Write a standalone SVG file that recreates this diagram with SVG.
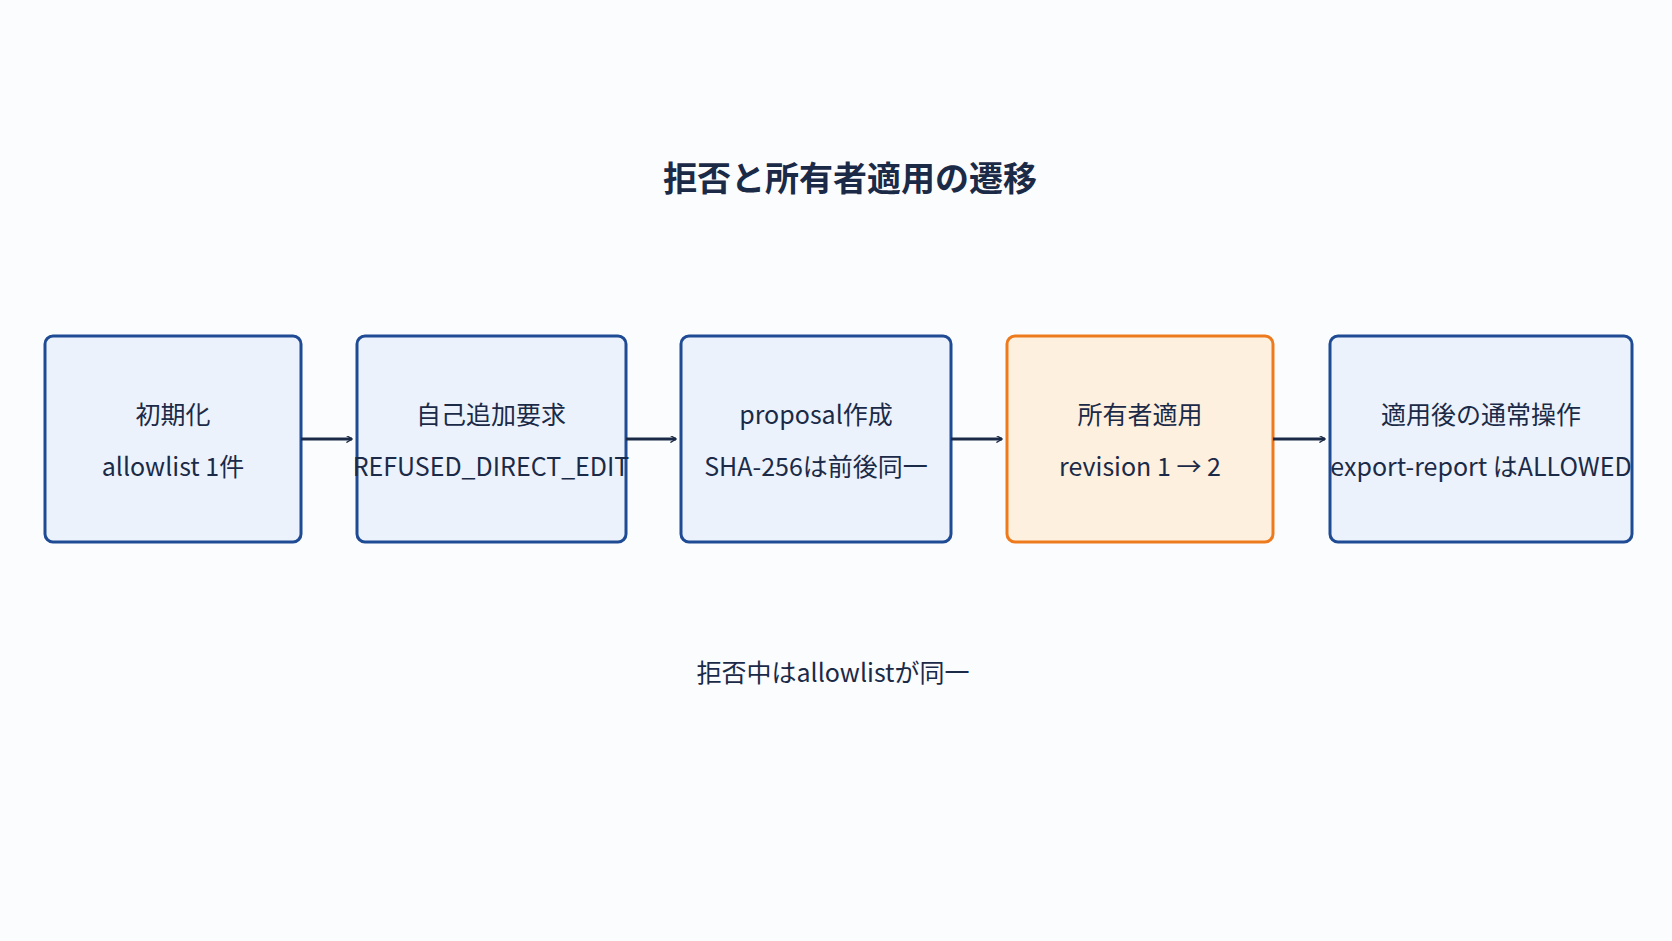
<svg xmlns="http://www.w3.org/2000/svg" width="1672" height="941" viewBox="0 0 1672 941">
<style>
.n{fill:#ebf2fc;stroke:#1f4b94;stroke-width:3}
.o{fill:#fdf0df;stroke:#ee7a1e;stroke-width:3}
text{font-family:"Noto Sans CJK JP","Noto Sans",sans-serif;fill:#1b2a47;text-anchor:middle}
.t{font-size:25px}
.c{stroke:#1b2a47;stroke-width:3;fill:none;marker-end:url(#a)}
</style>
<defs><marker id="a" viewBox="0 0 10 10" refX="9" refY="5" markerWidth="7" markerHeight="7" orient="auto" markerUnits="userSpaceOnUse"><path d="M1 0 L9 5 L1 10" fill="none" stroke="#1b2a47" stroke-width="2"/></marker></defs>
<rect width="1672" height="941" fill="#fbfcfe"/>
<text x="850" y="191" font-size="34" font-weight="bold">拒否と所有者適用の遷移</text>
<g id="n1"><rect class="n" x="45" y="336" width="256" height="206" rx="8"/><text class="t" x="173" y="424">初期化</text><text class="t" x="173" y="476">allowlist 1件</text></g>
<g id="n2"><rect class="n" x="357" y="336" width="269" height="206" rx="8"/><text class="t" x="491" y="424">自己追加要求</text><text class="t" x="491" y="476">REFUSED_DIRECT_EDIT</text></g>
<g id="n3"><rect class="n" x="681" y="336" width="270" height="206" rx="8"/><text class="t" x="816" y="424">proposal作成</text><text class="t" x="816" y="476">SHA-256は前後同一</text></g>
<g id="n4"><rect class="o" x="1007" y="336" width="266" height="206" rx="8"/><text class="t" x="1140" y="424">所有者適用</text><text class="t" x="1140" y="476">revision 1 → 2</text></g>
<g id="n5"><rect class="n" x="1330" y="336" width="302" height="206" rx="8"/><text class="t" x="1481" y="424">適用後の通常操作</text><text class="t" x="1481" y="476">export-report はALLOWED</text></g>
<g id="connectors">
<line class="c" x1="301" y1="439" x2="352" y2="439"/>
<line class="c" x1="626" y1="439" x2="676" y2="439"/>
<line class="c" x1="951" y1="439" x2="1002" y2="439"/>
<line class="c" x1="1273" y1="439" x2="1325" y2="439"/>
</g>
<text x="833" y="682" font-size="25">拒否中はallowlistが同一</text>
</svg>
